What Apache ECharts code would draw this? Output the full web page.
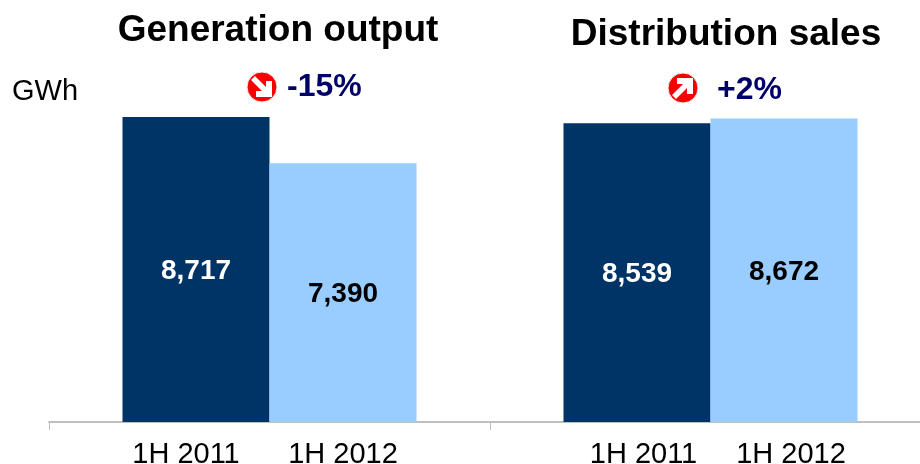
<!DOCTYPE html>
<html>
<head>
<meta charset="utf-8">
<style>
  html, body { margin: 0; padding: 0; background: #fff; }
  #main { width: 920px; height: 464px; }
</style>
<script src="https://cdn.jsdelivr.net/npm/echarts@6/dist/echarts.min.js"></script>
</head>
<body>
<div id="main"></div>
<script>
// blank slots keep the two groups apart on one shared category axis
const categories = ['', '1H 2011', '1H 2012', '', '1H 2011', '1H 2012', '']
const values = [null, 8717, 7390, null, 8539, 8672, null]
const barColors = ['', '#003366', '#99ccff', '', '#003366', '#99ccff', '']
const labelColors = ['', '#ffffff', '#000000', '', '#ffffff', '#000000', '']
const titles = ['Generation output', 'Distribution sales']
const changes = ['-15%', '+2%']
const unit = 'GWh'

const fontFamily = '"Liberation Sans", Arial, sans-serif'

// labels don't sit exactly under their bars in the original
const labelPadding = {
  1: [0, 20, 0, 0],
  4: [0, 0, 0, 13],
  5: [0, 0, 0, 14],
}

// red badge with a white arrow, dir 1 = pointing down, -1 = pointing up
function badge(cx, cy, dir) {
  return {
    type: 'group',
    x: cx,
    y: cy,
    children: [
      { type: 'circle', shape: { r: 15 }, style: { fill: '#f80000', stroke: '#eeeeee', lineWidth: 1 } },
      {
        type: 'polygon',
        shape: {
          points: dir > 0
            ? [[-11, -7], [-7, -11], [4, 0], [4, -6], [10, -6], [10, 10], [-6, 10], [-6, 4], [0, 4]]
            : [[-11, 7], [-7, 11], [4, 0], [4, 6], [10, 6], [10, -10], [-6, -10], [-6, -4], [0, -4]],
        },
        style: { fill: '#ffffff' },
      },
    ],
  }
}

const option = {
  animation: false,
  backgroundColor: '#ffffff',
  // the axis runs past the right edge, so no fitting into the canvas
  grid: { left: 49, top: 2, width: 882, height: 420, outerBoundsMode: 'none' },
  xAxis: {
    type: 'category',
    data: categories.map((c, i) => ({
      value: c,
      textStyle: labelPadding[i] ? { padding: labelPadding[i] } : {},
    })),
    boundaryGap: false,
    axisLine: { lineStyle: { color: '#bfbfbf', width: 2 } },
    axisTick: {
      length: 8,
      interval: (i) => i % 3 === 0,
      lineStyle: { color: '#bfbfbf', width: 1 },
    },
    axisLabel: {
      interval: 0,
      margin: 18,
      color: '#000000',
      fontSize: 29,
      fontFamily: fontFamily,
    },
  },
  yAxis: { type: 'value', min: 0, max: 12000, show: false },
  series: [
    {
      type: 'bar',
      barWidth: 147,
      data: values.map((v, i) => ({
        value: v,
        itemStyle: { color: barColors[i] },
        label: { color: labelColors[i] },
      })),
      label: {
        show: true,
        position: 'inside',
        offset: [0, 2],
        fontSize: 28,
        fontWeight: 'bold',
        fontFamily: fontFamily,
        formatter: (p) => p.value.toLocaleString('en-US'),
      },
    },
  ],
  graphic: [
    { type: 'text', x: 278, y: 31, style: { text: titles[0], align: 'center', verticalAlign: 'middle', fill: '#000', font: 'bold 37px ' + fontFamily } },
    { type: 'text', x: 726, y: 35, style: { text: titles[1], align: 'center', verticalAlign: 'middle', fill: '#000', font: 'bold 37px ' + fontFamily } },
    { type: 'text', x: 12, y: 92, style: { text: unit, verticalAlign: 'middle', fill: '#000', font: '29px ' + fontFamily } },
    { type: 'text', x: 287, y: 87, style: { text: changes[0], verticalAlign: 'middle', fill: '#000066', font: 'bold 32px ' + fontFamily } },
    { type: 'text', x: 717, y: 90, style: { text: changes[1], verticalAlign: 'middle', fill: '#000066', font: 'bold 32px ' + fontFamily } },
    badge(262, 87, 1),
    badge(683, 88, -1),
  ],
}

const myChart = echarts.init(document.getElementById('main'))
myChart.setOption(option, true)
</script>
</body>
</html>
